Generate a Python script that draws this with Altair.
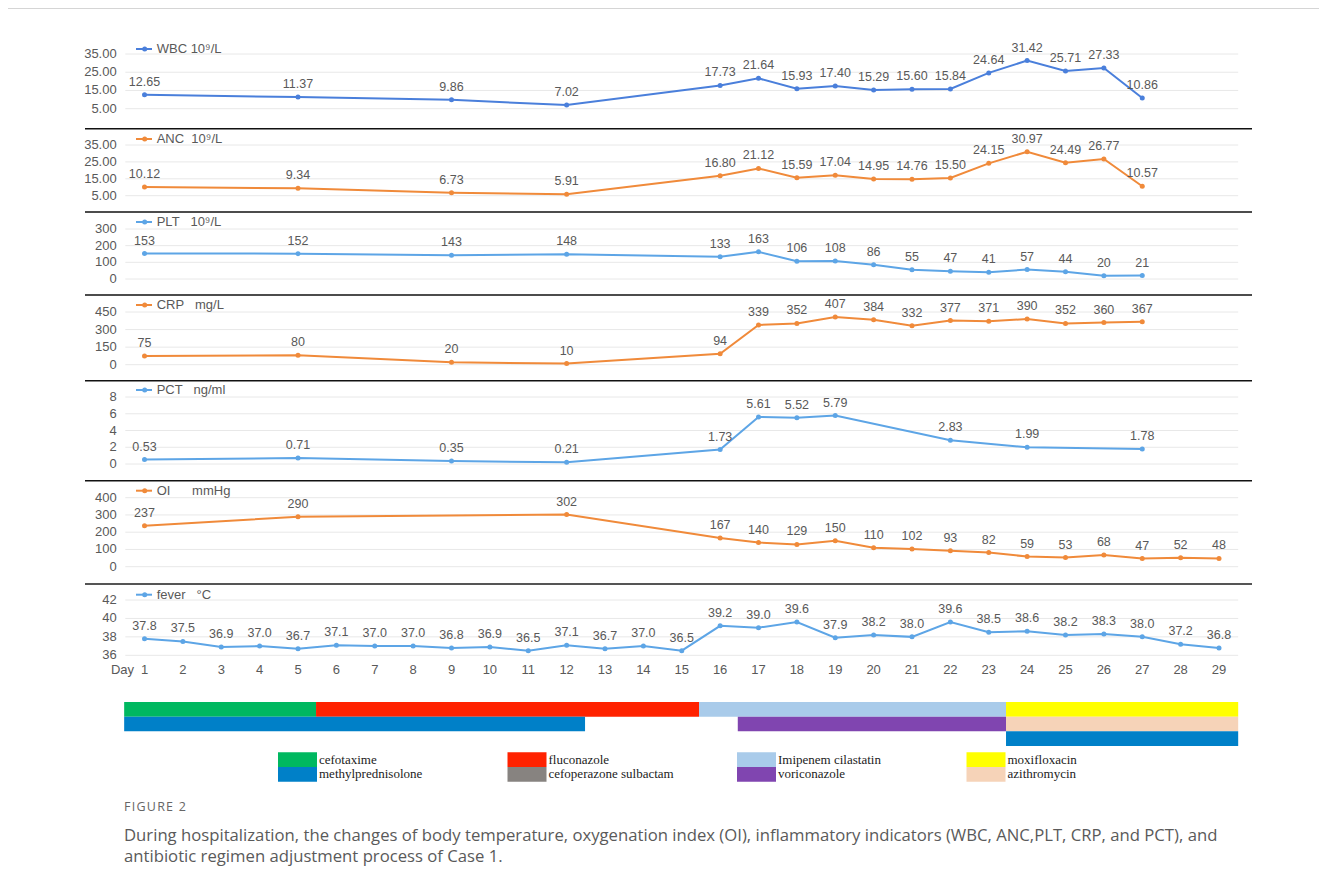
import altair as alt
import pandas as pd

# ---------------- data ----------------
days_main = [1, 5, 9, 12, 16, 17, 18, 19, 20, 21, 22, 23, 24, 25, 26, 27]
wbc = [12.65, 11.37, 9.86, 7.02, 17.73, 21.64, 15.93, 17.40, 15.29, 15.60, 15.84, 24.64, 31.42, 25.71, 27.33, 10.86]
anc = [10.12, 9.34, 6.73, 5.91, 16.80, 21.12, 15.59, 17.04, 14.95, 14.76, 15.50, 24.15, 30.97, 24.49, 26.77, 10.57]
plt_vals = [153, 152, 143, 148, 133, 163, 106, 108, 86, 55, 47, 41, 57, 44, 20, 21]
crp = [75, 80, 20, 10, 94, 339, 352, 407, 384, 332, 377, 371, 390, 352, 360, 367]
pct_days = [1, 5, 9, 12, 16, 17, 18, 19, 22, 24, 27]
pct = [0.53, 0.71, 0.35, 0.21, 1.73, 5.61, 5.52, 5.79, 2.83, 1.99, 1.78]
oi_days = [1, 5, 12, 16, 17, 18, 19, 20, 21, 22, 23, 24, 25, 26, 27, 28, 29]
oi = [237, 290, 302, 167, 140, 129, 150, 110, 102, 93, 82, 59, 53, 68, 47, 52, 48]
fever_days = [1, 2, 3, 4, 5, 6, 7, 8, 9, 10, 11, 12, 13, 14, 15, 16, 17, 18, 19, 20,
              21, 22, 23, 24, 25, 26, 27, 28, 29]
fever = [37.8, 37.5, 36.9, 37.0, 36.7, 37.1, 37.0, 37.0, 36.8, 36.9, 36.5, 37.1, 36.7, 37.0,
         36.5, 39.2, 39.0, 39.6, 37.9, 38.2, 38.0, 39.6, 38.5, 38.6, 38.2, 38.3, 38.0, 37.2, 36.8]

wbc_ticks = [5, 15, 25, 35]
anc_ticks = [5, 15, 25, 35]
plt_ticks = [0, 100, 200, 300]
crp_ticks = [0, 150, 300, 450]
pct_ticks = [0, 2, 4, 6, 8]
oi_ticks = [0, 100, 200, 300, 400]
fever_ticks = [36, 38, 40, 42]

# treatment bars
bar_drugs = ["cefotaxime", "fluconazole", "Imipenem cilastatin", "moxifloxacin",
             "methylprednisolone", "voriconazole", "azithromycin", "methylprednisolone"]
bar_start = [0.47, 5.47, 15.45, 23.45, 0.47, 16.46, 23.45, 23.45]
bar_end = [5.47, 15.45, 23.45, 29.5, 12.48, 23.45, 29.5, 29.5]
bar_row = [0, 0, 0, 0, 1, 1, 1, 2]

legend_names = ["cefotaxime", "fluconazole", "Imipenem cilastatin", "moxifloxacin",
                "methylprednisolone", "cefoperazone sulbactam", "voriconazole", "azithromycin"]
legend_colors = ["#00B860", "#FF2200", "#A9CBEA", "#FFFF00",
                 "#0080C8", "#878380", "#8045B0", "#F6D3B8"]
legend_col = [0, 1, 2, 3, 0, 1, 2, 3]
legend_row = [0, 0, 0, 0, 1, 1, 1, 1]

# ---------------- style ----------------
FONT = "Liberation Sans"
GREY = "#595959"
BLUE = "#4A7FDB"
ORANGE = "#F08A3A"
LBLUE = "#5DA5E6"
XS = alt.Scale(domain=[1, 29], range=[136.5, 1211])


def panel(days, vals, fmt, color, ticks, tick_fmt, yrange, legend_text, legend_y):
    df = pd.DataFrame({"day": days, "v": vals, "lab": [fmt.format(v) for v in vals]})
    ys = alt.Scale(domain=[ticks[0], ticks[-1]], range=list(yrange), zero=False, nice=False)
    tdf = pd.DataFrame({"t": ticks, "tl": [tick_fmt.format(t) for t in ticks],
                        "x0": [0.5] * len(ticks), "x1": [29.5] * len(ticks)})
    grid = alt.Chart(tdf).mark_rule(color="#e8e8e8", strokeWidth=1).encode(
        x=alt.X("x0:Q", scale=XS, axis=None), x2="x1:Q",
        y=alt.Y("t:Q", scale=ys, axis=None))
    tl = alt.Chart(tdf).mark_text(align="right", baseline="middle", font=FONT,
                                  fontSize=13, color=GREY).encode(
        x=alt.value(108.7), y=alt.Y("t:Q", scale=ys, axis=None), text="tl:N")
    base = alt.Chart(df).encode(x=alt.X("day:Q", scale=XS, axis=None),
                                y=alt.Y("v:Q", scale=ys, axis=None))
    line = base.mark_line(color=color, strokeWidth=2)
    pts = base.mark_circle(color=color, size=25, opacity=1)
    labels = base.mark_text(baseline="middle", dy=-13, font=FONT, fontSize=12.5,
                            color=GREY).encode(text="lab:N")
    ldf = pd.DataFrame({"t": [legend_text]})
    leg_line = alt.Chart(ldf).mark_rule(color=color, strokeWidth=2).encode(
        x=alt.value(128), x2=alt.value(144), y=alt.value(legend_y))
    leg_pt = alt.Chart(ldf).mark_circle(color=color, size=25, opacity=1).encode(
        x=alt.value(136.7), y=alt.value(legend_y))
    leg_tx = alt.Chart(ldf).mark_text(align="left", baseline="middle", font=FONT,
                                      fontSize=13, color=GREY).encode(
        x=alt.value(148.7), y=alt.value(legend_y), text="t:N")
    return alt.layer(grid, tl, line, pts, labels, leg_line, leg_pt, leg_tx)


NB = "\u00a0"
p_wbc = panel(days_main, wbc, "{:.2f}", BLUE, wbc_ticks, "{:.2f}", (100.7, 46),
              "WBC 10⁹/L", 41)
p_anc = panel(days_main, anc, "{:.2f}", ORANGE, anc_ticks, "{:.2f}", (187.7, 137),
              "ANC" + NB + " 10⁹/L", 131)
p_plt = panel(days_main, plt_vals, "{:d}", LBLUE, plt_ticks, "{:d}", (271, 221),
              "PLT" + NB * 2 + " 10⁹/L", 214)
p_crp = panel(days_main, crp, "{:d}", ORANGE, crp_ticks, "{:d}", (356.7, 304),
              "CRP" + NB * 2 + " mg/L", 297)
p_pct = panel(pct_days, pct, "{:.2f}", LBLUE, pct_ticks, "{:d}", (456, 389),
              "PCT" + NB * 2 + " ng/ml", 382)
p_oi = panel(oi_days, oi, "{:d}", ORANGE, oi_ticks, "{:d}", (558.7, 489.7),
             "OI" + NB * 5 + " mmHg", 482.7)
p_fev = panel(fever_days, fever, "{:.1f}", LBLUE, fever_ticks, "{:d}", (647.3, 592),
              "fever" + NB * 2 + " °C", 586.7)

# day axis labels
ddf = pd.DataFrame({"day": fever_days, "lab": [str(d) for d in fever_days]})
day_labels = alt.Chart(ddf).mark_text(baseline="middle", font=FONT, fontSize=13,
                                      color=GREY).encode(
    x=alt.X("day:Q", scale=XS, axis=None), y=alt.value(662), text="lab:N")
day_word = alt.Chart(pd.DataFrame({"t": ["Day"]})).mark_text(
    align="right", baseline="middle", font=FONT, fontSize=13, color=GREY).encode(
    x=alt.value(126), y=alt.value(662), text="t:N")

# separators
ID = alt.Scale(domain=[0, 879], range=[0, 879], zero=False, nice=False)
sep_df = pd.DataFrame({"y": [120.7, 204, 287, 372.7, 472.7],
                       "x0": [77] * 5, "x1": [1244] * 5})
seps = alt.Chart(sep_df).mark_rule(color="#111111", strokeWidth=1.6).encode(
    x=alt.X("x0:Q", scale=alt.Scale(domain=[0, 1311], range=[0, 1311]), axis=None),
    x2="x1:Q", y=alt.Y("y:Q", scale=ID, axis=None))
sep_last = alt.Chart(pd.DataFrame({"y": [576]})).mark_rule(color="#555555", strokeWidth=2).encode(
    x=alt.value(77), x2=alt.value(1244), y=alt.value(576))
top_line = alt.Chart(pd.DataFrame({"y": [0]})).mark_rule(color="#d5d5d5", strokeWidth=1).encode(
    x=alt.value(0), x2=alt.value(1311), y=alt.value(0.5))

# treatment bars
bdf = pd.DataFrame({"drug": bar_drugs, "start": bar_start, "end": bar_end, "row": bar_row})
bdf["row2"] = bdf["row"] + 1
color_scale = alt.Scale(domain=legend_names, range=legend_colors)
bars = alt.Chart(bdf).mark_rect().encode(
    x=alt.X("start:Q", scale=XS, axis=None), x2="end:Q",
    y=alt.Y("row:Q", scale=alt.Scale(domain=[0, 3], range=[694, 738], zero=False, nice=False),
            axis=None),
    y2="row2:Q",
    color=alt.Color("drug:N", scale=color_scale, legend=None))

# manual legend
ldf = pd.DataFrame({"drug": legend_names, "col": legend_col, "row": legend_row})
ldf["col2"] = ldf["col"] + 39 / 229.5
ldf["row2"] = ldf["row"] + 1
ldf["rowm"] = ldf["row"] + 0.5
LX = alt.Scale(domain=[0, 1], range=[270, 499.5], zero=False, nice=False)
LY = alt.Scale(domain=[0, 2], range=[744.3, 773.7], zero=False, nice=False)
leg_sw = alt.Chart(ldf).mark_rect().encode(
    x=alt.X("col:Q", scale=LX, axis=None), x2="col2:Q",
    y=alt.Y("row:Q", scale=LY, axis=None), y2="row2:Q",
    color=alt.Color("drug:N", scale=color_scale, legend=None))
leg_tx = alt.Chart(ldf).mark_text(align="left", baseline="middle", dx=41,
                                  font="Liberation Serif", fontSize=13,
                                  color="#222222").encode(
    x=alt.X("col:Q", scale=LX, axis=None), y=alt.Y("rowm:Q", scale=LY, axis=None),
    text="drug:N")
legend = alt.layer(leg_sw, leg_tx)

# caption
HS = "\u200a"
cap1 = alt.Chart(pd.DataFrame({"t": [HS.join("FIGURE 2")]})).mark_text(
    align="left", baseline="middle", font="Open Sans", fontSize=12.5, color="#666666").encode(
    x=alt.value(116), y=alt.value(799), text="t:N")
cap2 = alt.Chart(pd.DataFrame({"t": [
    "During hospitalization, the changes of body temperature, oxygenation index (OI), "
    "inflammatory indicators (WBC, ANC,PLT, CRP, and PCT), and"]})).mark_text(
    align="left", baseline="middle", font="Open Sans", fontSize=16.7, color="#5a5a5a").encode(
    x=alt.value(116), y=alt.value(828), text="t:N")
cap3 = alt.Chart(pd.DataFrame({"t": ["antibiotic regimen adjustment process of Case 1."]})).mark_text(
    align="left", baseline="middle", font="Open Sans", fontSize=16.7, color="#5a5a5a").encode(
    x=alt.value(116), y=alt.value(849), text="t:N")

chart = alt.layer(
    top_line, p_wbc, p_anc, p_plt, p_crp, p_pct, p_oi, p_fev,
    day_labels, day_word, seps, sep_last, bars, legend, cap1, cap2, cap3
).resolve_scale(x="independent", y="independent", color="independent").properties(
    width=1311, height=879, autosize=alt.AutoSizeParams(type="none"), padding=0
).configure_view(stroke=None)

chart.save("out.html", embed_options={"renderer": "svg", "actions": False})
